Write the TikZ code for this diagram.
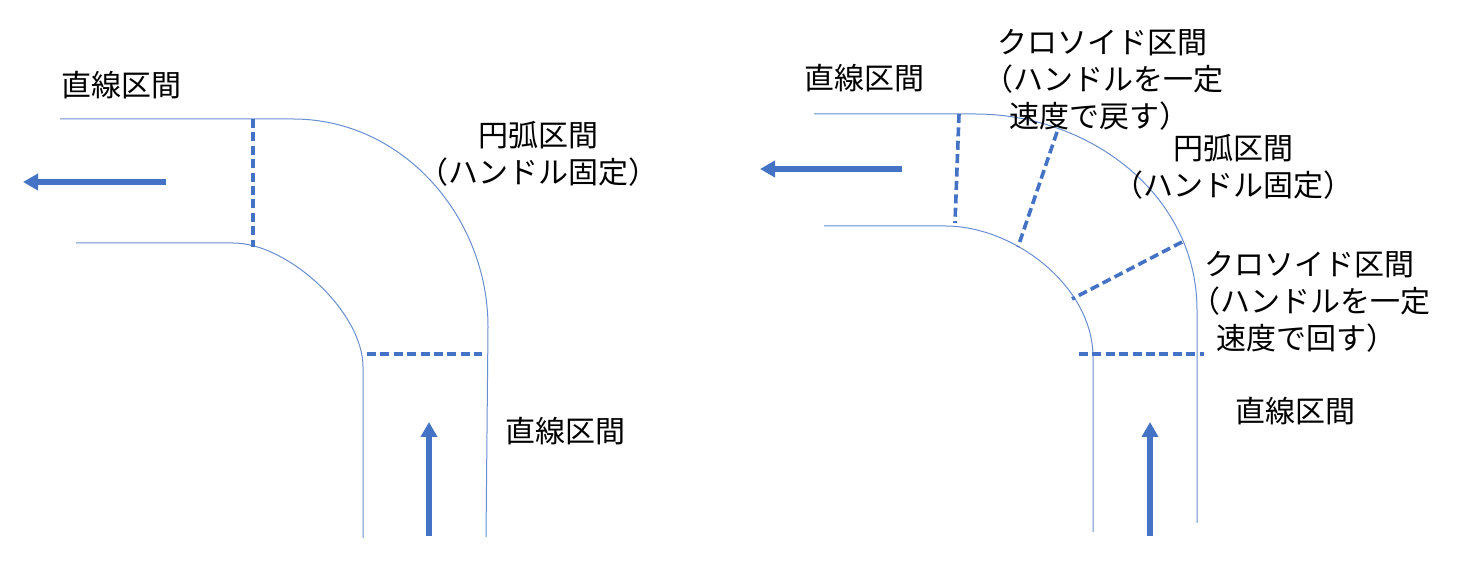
\documentclass[tikz,border=0pt]{standalone}
\usepackage{fontspec}
\newfontfamily\jpfont{Noto Sans CJK JP}
\usetikzlibrary{arrows.meta}
\definecolor{roadblue}{HTML}{4472C4}

\begin{document}
\begin{tikzpicture}[x=0.5pt, y=-0.5pt,
    road/.style={roadblue!80, line width=0.5pt},
    seam/.style={roadblue, line width=1.8pt, dash pattern=on 4.5pt off 2.2pt},
    dir/.style={roadblue, line width=2.6pt, -{Triangle[length=7.5pt, width=8pt]}},
    lbl/.style={font=\jpfont\fontsize{15pt}{18.4pt}\selectfont, inner sep=0pt}]
      \useasboundingbox (0,0) rectangle (1466,565);
      % left: straight - arc - straight
      \coordinate (aOutA) at (293,119);
      \coordinate (aOutB) at (488,327);
      \coordinate (aInA) at (233,243);
      \coordinate (aInB) at (363,367);
      \draw[road] (60,119) -- (aOutA) .. controls (403,119) and (488,217) .. (aOutB) -- (486,537);
      \draw[road] (76,243) -- (aInA) .. controls (288,243) and (363,312) .. (aInB) -- (363,538);
      \draw[seam] (253,119) -- (253,247);
      \draw[seam] (367,354) -- (482,354);
      \coordinate (aOut) at (23,182);
      \coordinate (aIn) at (429,422);
      \draw[dir] (166,182) -- (aOut);
      \draw[dir] (429,536) -- (aIn);
      \node[lbl] (aStraightTop) at (121,85) {直線区間};
      \node[lbl, align=center] (aArc) at (538,154) {円弧区間\\（ハンドル固定）};
      \node[lbl] (aStraightBot) at (565,431) {直線区間};
      % right: straight - clothoid - arc - clothoid - straight
      \coordinate (bOutA) at (975,114);
      \coordinate (bOutB) at (1197,310);
      \coordinate (bInA) at (945,226);
      \coordinate (bInB) at (1093,357);
      \draw[road] (814,114) -- (bOutA) .. controls (1090,114) and (1197,195) .. (bOutB) -- (1197,523);
      \draw[road] (824,226) -- (bInA) .. controls (1015,226) and (1093,287) .. (bInB) -- (1093,532);
      \draw[seam] (959,114) -- (955,223);
      \draw[seam] (1057,132) -- (1018,247);
      \draw[seam] (1182,242) -- (1072,299);
      \draw[seam] (1079,354) -- (1204,354);
      \coordinate (bOut) at (760,169);
      \coordinate (bIn) at (1150,422);
      \draw[dir] (902,169) -- (bOut);
      \draw[dir] (1150,536) -- (bIn);
      \node[lbl] (bStraightTop) at (864,78) {直線区間};
      \node[lbl, align=left, anchor=west] (bClothA) at (997,80)
        {クロソイド区間\\\hspace*{-.45em}（ハンドルを一定\\\hspace*{.4em}速度で戻す）};
      \node[lbl, align=center] (bArc) at (1233,167) {円弧区間\\（ハンドル固定）};
      \node[lbl, align=left, anchor=west] (bClothB) at (1204,302)
        {クロソイド区間\\\hspace*{-.45em}（ハンドルを一定\\\hspace*{.4em}速度で回す）};
      \node[lbl] (bStraightBot) at (1295,411) {直線区間};
\end{tikzpicture}
\end{document}
